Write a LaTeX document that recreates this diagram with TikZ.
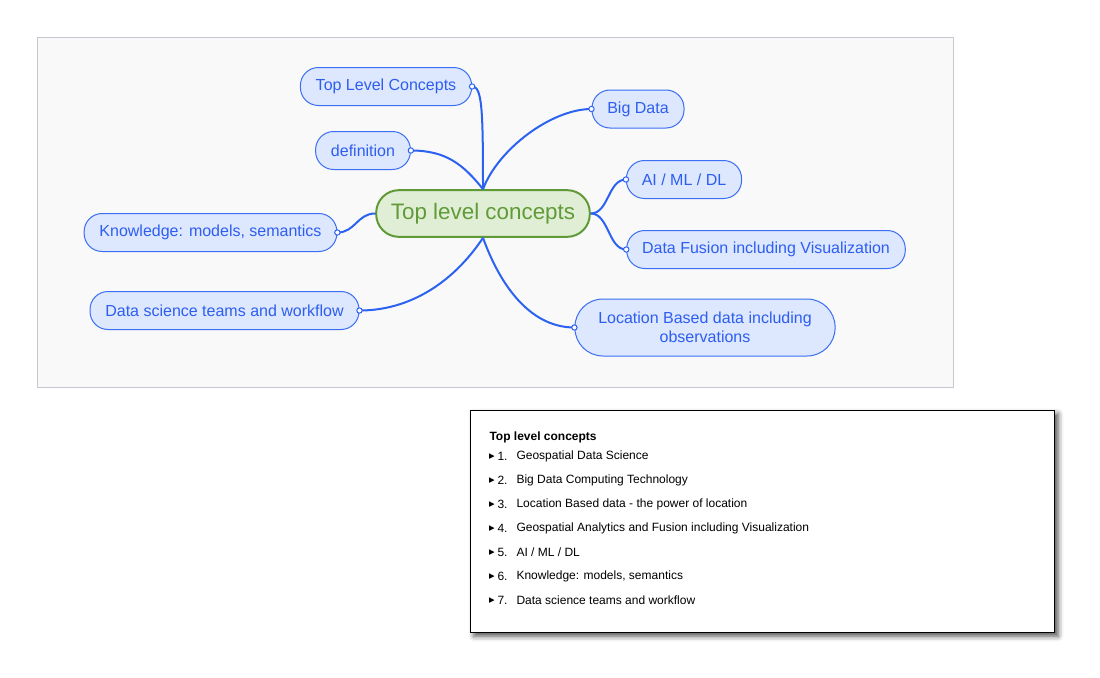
\documentclass[tikz,border=0pt]{standalone}
\usepackage{fontspec}
\setmainfont{Liberation Sans}
\newfontfamily\symfont{DejaVu Sans}
\usetikzlibrary{shadows.blur}

\definecolor{panelfill}{RGB}{249,249,249}
\definecolor{panelline}{RGB}{196,200,208}
\definecolor{rootfill}{RGB}{224,238,213}
\definecolor{rootline}{RGB}{96,154,56}
\definecolor{roottext}{RGB}{96,155,56}
\definecolor{leaffill}{RGB}{221,231,253}
\definecolor{leafline}{RGB}{58,110,245}
\definecolor{leaftext}{RGB}{45,94,240}
\definecolor{linkblue}{RGB}{44,98,242}

\tikzset{every picture/.style={line width=0.75pt}}

\begin{document}
\begin{tikzpicture}[x=0.75pt,y=0.75pt,yscale=-1,xscale=1,
  leaf/.style={draw=leafline, fill=leaffill, text=leaftext, rounded corners=13.5pt, minimum height=28.5pt, inner xsep=11.5pt, inner ysep=0pt, font=\fontsize{12}{14.5}\selectfont},
  link/.style={draw=linkblue, line width=1.5pt},
  dot/.style={circle, draw=linkblue, fill=white, line width=0.75pt, inner sep=0pt, minimum size=4pt},
  listtext/.style={anchor=west, inner sep=0pt, font=\fontsize{9}{11}\selectfont}]
\path[use as bounding box] (0,0) rectangle (1100,678);

% mind map panel
\draw[draw=panelline, fill=panelfill] (37,37) rectangle (953,387);

% central topic
\node[draw=rootline, fill=rootfill, text=roottext, line width=1.5pt, rounded corners=17pt, minimum height=35pt, inner xsep=11pt, font=\fontsize{16.8}{20}\selectfont] (root) at (483,213.5) {Top level concepts};

% subtopics
\node[leaf] (tlc) at (386,86.5) {Top Level Concepts};
\node[leaf] (defn) at (363,150.5) {definition};
\node[leaf] (bigdata) at (638,109) {Big Data};
\node[leaf] (aiml) at (684,179.5) {AI / ML / DL};
\node[leaf] (fusion) at (766,249.5) {Data Fusion including Visualization};
\node[leaf] (knowl) at (210.5,232.5) {Knowledge: models, semantics};
\node[leaf] (dsci) at (224.5,310.5) {Data science teams and workflow};
\node[leaf, align=center, rounded corners=21pt, minimum height=42.75pt, inner xsep=17.5pt] (loc) at (705,327.5) {Location Based data including\\observations};

% connectors
\draw[link] (root.north) .. controls +(0,-80) and +(10,0) .. (tlc.east) node[dot]{};
\draw[link] (root.north) .. controls +(-20,-25) and +(35,0) .. (defn.east) node[dot]{};
\draw[link] (root.north) .. controls +(15,-40) and +(-40,0) .. (bigdata.west) node[dot]{};
\draw[link] (root.east) .. controls +(18,0) and +(-18,0) .. (aiml.west) node[dot]{};
\draw[link] (root.east) .. controls +(18,0) and +(-18,0) .. (fusion.west) node[dot]{};
\draw[link] (root.west) .. controls +(-18,0) and +(18,0) .. (knowl.east) node[dot]{};
\draw[link] (root.south) .. controls +(-30,45) and +(50,0) .. (dsci.east) node[dot]{};
\draw[link] (root.south) .. controls +(20,55) and +(-40,0) .. (loc.west) node[dot]{};

% outline box
\node[draw=black, fill=white, minimum width=438pt, minimum height=166.5pt, inner sep=0pt,
  blur shadow={shadow xshift=3pt, shadow yshift=-3pt, shadow blur radius=4pt, shadow opacity=70}] (listbox) at (762,521) {};
\node[listtext, font=\fontsize{9}{11}\selectfont\bfseries] (listtitle) at (489,437) {Top level concepts};
\foreach \i/\txt in {1/Geospatial Data Science,
                     2/Big Data Computing Technology,
                     3/Location Based data - the power of location,
                     4/Geospatial Analytics and Fusion including Visualization,
                     5/{AI / ML / DL},
                     6/{Knowledge: models, semantics},
                     7/Data science teams and workflow}{
  \node[listtext, font=\symfont\fontsize{5.5}{6}\selectfont] (bullet\i) at (488.5,432.5+24*\i) {▶};
  \node[listtext] (num\i) at (497,432+24*\i) {\i.};
  \node[listtext] (item\i) at (516,432+24*\i) {\txt};
}

\end{tikzpicture}
\end{document}
